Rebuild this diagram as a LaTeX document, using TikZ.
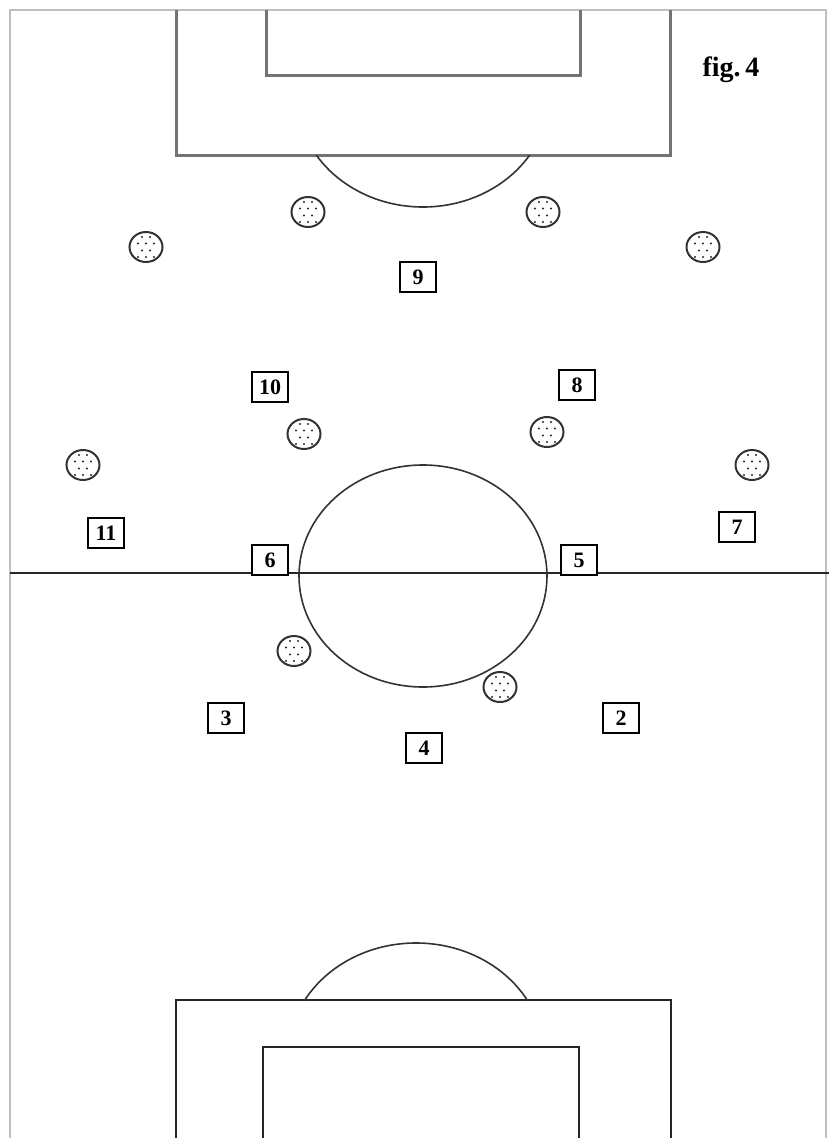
\documentclass[tikz,border=0pt]{standalone}
\usepackage{fontspec}
\setmainfont{Liberation Serif}
\usetikzlibrary{shapes.geometric, positioning}

\begin{document}
\begin{tikzpicture}[
        x=1pt, y=-1pt,
        % Pitch styles
        touchline/.style={draw=black!25, line width=1.2pt},
        topline/.style={draw=black!55, line width=3pt},
        pitchline/.style={draw=black!85, line width=2.2pt},
        arcline/.style={draw=black!80, line width=1.6pt},
        % Player styles
        opponent/.style={ellipse, draw=black!80, line width=2pt, minimum width=33pt, minimum height=30pt, inner sep=0pt,
            path picture={
                \foreach \dx/\dy in {-4/-10, 4/-10, -8/-3.5, 0/-3.5, 8/-3.5, -4/3.5, 4/3.5, -8/10, 0/10, 8/10}
                    \fill[black!85] (path picture bounding box.center) ++(\dx,\dy) circle (1.1pt);
            }},
        numbox/.style={rectangle, draw=black, line width=2pt, fill=white, minimum width=36pt, minimum height=30pt, inner sep=0pt, font=\bfseries\fontsize{22}{22}\selectfont}
    ]
    \useasboundingbox (0,0) rectangle (829,1138);

    % --- PITCH ---
    \draw [touchline] (10,1138) -- (10,10) -- (826,10) -- (826,1138);
    \draw [pitchline] (10,573) coordinate (hl) -- (829,573) coordinate (hr);
    \draw [arcline] (423,576) ellipse [x radius=124, y radius=111];

    % top penalty area
    \draw [topline] (176,10) -- (176,155) -- (670,155) -- (670,10);
    \draw [topline] (266,10) -- (266,75) -- (580,75) -- (580,10);
    \begin{scope}
        \clip (176,155) rectangle (670,300);
        \draw [arcline] (423,96) ellipse [x radius=126, y radius=111];
    \end{scope}

    % bottom penalty area
    \draw [pitchline] (176,1138) -- (176,1000) -- (671,1000) -- (671,1138);
    \draw [pitchline] (263,1138) -- (263,1047) -- (579,1047) -- (579,1138);
    \begin{scope}
        \clip (176,1000) rectangle (671,900);
        \draw [arcline] (416,1056) ellipse [x radius=128, y radius=113];
    \end{scope}

    % --- OPPONENTS ---
    \node (o1) [opponent] at (146,247) {};
    \node (o2) [opponent] at (308,212) {};
    \node (o3) [opponent] at (543,212) {};
    \node (o4) [opponent] at (703,247) {};
    \node (o5) [opponent] at (83,465) {};
    \node (o6) [opponent] at (304,434) {};
    \node (o7) [opponent] at (547,432) {};
    \node (o8) [opponent] at (752,465) {};
    \node (o9) [opponent] at (294,651) {};
    \node (o10) [opponent] at (500,687) {};

    % --- TEAM ---
    \node (p9) [numbox] at (418,277) {9};
    \node (p10) [numbox] at (270,387) {10};
    \node (p8) [numbox] at (577,385) {8};
    \node (p11) [numbox] at (106,533) {11};
    \node (p7) [numbox] at (737,527) {7};
    \node (p6) [numbox] at (270,560) {6};
    \node (p5) [numbox] at (579,560) {5};
    \node (p3) [numbox] at (226,718) {3};
    \node (p4) [numbox] at (424,748) {4};
    \node (p2) [numbox] at (621,718) {2};

    % --- CAPTION ---
    \node (fig) [font=\bfseries\fontsize{28}{28}\selectfont] at (731,70) {fig.\,4};

\end{tikzpicture}
\end{document}
